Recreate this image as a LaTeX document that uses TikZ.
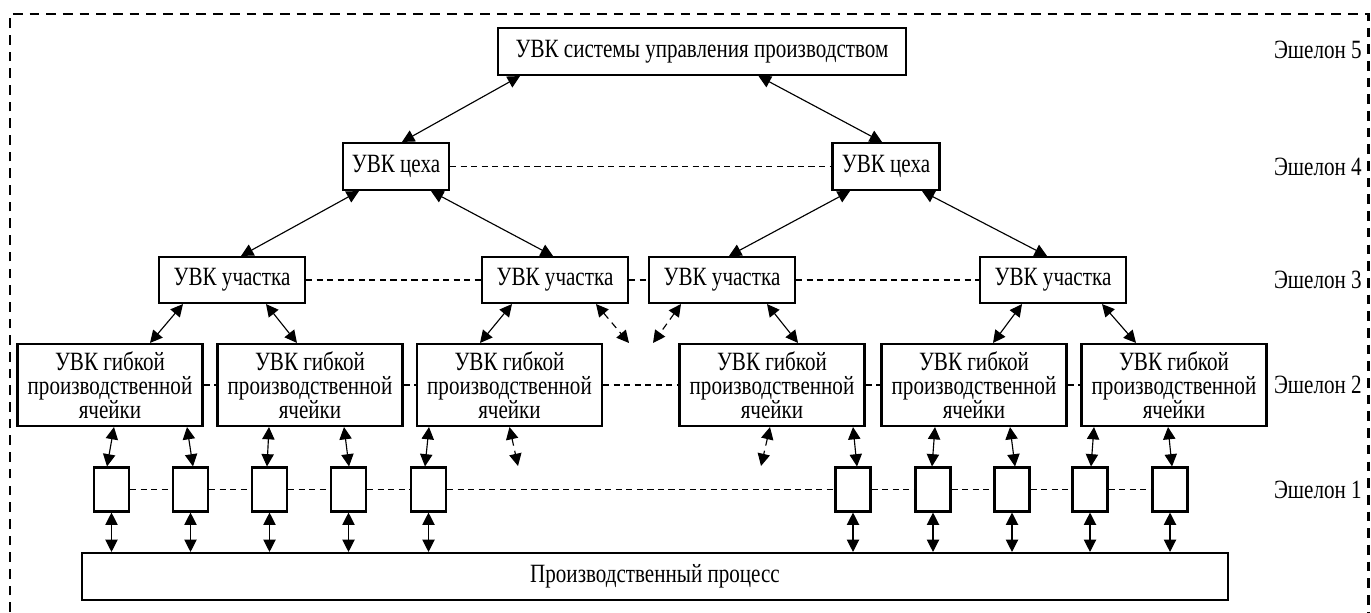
\documentclass[tikz,border=0pt]{standalone}
\usepackage{fontspec}
\setmainfont{Liberation Serif}[FakeStretch=0.8]
\usetikzlibrary{arrows.meta,calc}
\tikzset{box/.style = {shape=rectangle,draw,line width=1.2pt,inner sep=0pt,align=center,fill=white}}
\tikzset{link/.style = {{Triangle[length=7pt,width=7pt]}-{Triangle[length=7pt,width=7pt]},line width=0.65pt}}
\tikzset{dlink/.style = {link,dash pattern=on 4pt off 3pt}}
\tikzset{bus/.style = {line width=0.7pt,dash pattern=on 3.5pt off 2.5pt}}
\tikzset{frame/.style = {line width=1.7pt,dash pattern=on 5.5pt off 4pt}}
\tikzset{echelon/.style = {anchor=east,inner sep=0pt}}

\begin{document}
\begin{tikzpicture}[x=0.02cm,y=-0.02cm,font=\fontsize{15}{13.5}\selectfont]
  \useasboundingbox (0,0) rectangle (1371,612);
  \draw[frame] (10,612) -- (10,14) -- (1368,14) -- (1368,612);

  % echelon 5 and 4
  \node[box,minimum width=8.16cm,minimum height=0.94cm] (top) at (702,51.5) {УВК системы управления производством};
  \node[box,minimum width=2.12cm,minimum height=0.94cm] (shopL) at (396,166.5) {УВК цеха};
  \node[box,minimum width=2.14cm,minimum height=0.94cm] (shopR) at (886,166.5) {УВК цеха};

  % echelon 3
  \node[box,minimum width=2.92cm,minimum height=0.92cm] (area1) at (232,280) {УВК участка};
  \node[box,minimum width=2.92cm,minimum height=0.92cm] (area2) at (555,280) {УВК участка};
  \node[box,minimum width=2.92cm,minimum height=0.92cm] (area3) at (722,280) {УВК участка};
  \node[box,minimum width=2.92cm,minimum height=0.92cm] (area4) at (1053,280) {УВК участка};

  % echelon 2
  \node[box,minimum width=3.7cm,minimum height=1.64cm] (cell1) at (110,385) {УВК гибкой\\производственной\\ячейки};
  \node[box,minimum width=3.7cm,minimum height=1.64cm] (cell2) at (310,385) {УВК гибкой\\производственной\\ячейки};
  \node[box,minimum width=3.7cm,minimum height=1.64cm] (cell3) at (509.5,385) {УВК гибкой\\производственной\\ячейки};
  \node[box,minimum width=3.7cm,minimum height=1.64cm] (cell4) at (772,385) {УВК гибкой\\производственной\\ячейки};
  \node[box,minimum width=3.7cm,minimum height=1.64cm] (cell5) at (974,385) {УВК гибкой\\производственной\\ячейки};
  \node[box,minimum width=3.7cm,minimum height=1.64cm] (cell6) at (1174,385) {УВК гибкой\\производственной\\ячейки};

  % echelon 1
  \node[box,minimum width=0.7cm,minimum height=0.88cm] (dev1) at (111.5,489.5) {};
  \node[box,minimum width=0.7cm,minimum height=0.88cm] (dev2) at (190.5,489.5) {};
  \node[box,minimum width=0.7cm,minimum height=0.88cm] (dev3) at (269.5,489.5) {};
  \node[box,minimum width=0.7cm,minimum height=0.88cm] (dev4) at (348.5,489.5) {};
  \node[box,minimum width=0.7cm,minimum height=0.88cm] (dev5) at (428.5,489.5) {};
  \node[box,minimum width=0.7cm,minimum height=0.88cm] (dev6) at (853,489.5) {};
  \node[box,minimum width=0.7cm,minimum height=0.88cm] (dev7) at (933,489.5) {};
  \node[box,minimum width=0.7cm,minimum height=0.88cm] (dev8) at (1012,489.5) {};
  \node[box,minimum width=0.7cm,minimum height=0.88cm] (dev9) at (1090,489.5) {};
  \node[box,minimum width=0.7cm,minimum height=0.88cm] (dev10) at (1170,489.5) {};

  \node[box,minimum width=22.92cm,minimum height=0.94cm] (proc) at (655,576.5) {Производственный процесс};

  \node[echelon] (e5) at (1362,50) {Эшелон 5};
  \node[echelon] (e4) at (1362,166.5) {Эшелон 4};
  \node[echelon] (e3) at (1362,280) {Эшелон 3};
  \node[echelon] (e2) at (1362,385) {Эшелон 2};
  \node[echelon] (e1) at (1362,489.5) {Эшелон 1};

  % dashed ties inside each echelon
  \draw[bus] (shopL) -- (shopR);
  \draw[bus] (area1) -- (area2);
  \draw[bus] (area2) -- (area3);
  \draw[bus] (area3) -- (area4);
  \foreach \a/\b in {cell1/cell2,cell2/cell3,cell3/cell4,cell4/cell5,cell5/cell6}
    \draw[bus] (\a) -- (\b);
  \foreach \a/\b in {dev1/dev2,dev2/dev3,dev3/dev4,dev4/dev5,dev5/dev6,dev6/dev7,dev7/dev8,dev8/dev9,dev9/dev10}
    \draw[bus] (\a) -- (\b);

  % links between echelons
  \draw[link] ($(top.south)+(-182,0)$) -- ($(shopL.north)+(6,0)$);
  \draw[link] ($(top.south)+(56.5,0)$) -- ($(shopR.north)+(-4,0)$);

  \draw[link] ($(shopL.south)+(-37,0)$) -- ($(area1.north)+(9,0)$);
  \draw[link] ($(shopL.south)+(35,0)$) -- ($(area2.north)+(-2,0)$);
  \draw[link] ($(shopR.south)+(-36,0)$) -- ($(area3.north)+(7,0)$);
  \draw[link] ($(shopR.south)+(36,0)$) -- ($(area4.north)+(-6,0)$);

  \coordinate (freeA) at (629,343);
  \coordinate (freeB) at (653,343);
  \draw[link] ($(area1.south)+(-49,0)$) -- ($(cell1.north)+(40,0)$);
  \draw[link] ($(area1.south)+(34,0)$) -- ($(cell2.north)+(-13,0)$);
  \draw[link] ($(area2.south)+(-43,0)$) -- ($(cell3.north)+(-29.5,0)$);
  \draw[dlink] ($(area2.south)+(41,0)$) -- (freeA);
  \draw[dlink] ($(area3.south)+(-41,0)$) -- (freeB);
  \draw[link] ($(area3.south)+(45,0)$) -- ($(cell4.north)+(26,0)$);
  \draw[link] ($(area4.south)+(-31,0)$) -- ($(cell5.north)+(19,0)$);
  \draw[link] ($(area4.south)+(49,0)$) -- ($(cell6.north)+(-38,0)$);

  \coordinate (freeC) at (518,466);
  \coordinate (freeD) at (761,466);
  \draw[link] ($(cell1.south)+(4,0)$) -- ($(dev1.north)+(-4.5,0)$);
  \draw[link] ($(cell1.south)+(77,0)$) -- ($(dev2.north)+(2.5,0)$);
  \draw[link] ($(cell2.south)+(-41,0)$) -- ($(dev3.north)+(-2.5,0)$);
  \draw[link] ($(cell2.south)+(34,0)$) -- ($(dev4.north)+(0.5,0)$);
  \draw[link] ($(cell3.south)+(-80.5,0)$) -- ($(dev5.north)+(-3.5,0)$);
  \draw[dlink] (cell3.south) -- (freeC);
  \draw[dlink] ($(cell4.south)+(-2,0)$) -- (freeD);
  \draw[link] ($(cell4.south)+(81,0)$) -- ($(dev6.north)+(4,0)$);
  \draw[link] ($(cell5.south)+(-39,0)$) -- ($(dev7.north)+(-1,0)$);
  \draw[link] ($(cell5.south)+(36,0)$) -- ($(dev8.north)+(3,0)$);
  \draw[link] ($(cell6.south)+(-80,0)$) -- ($(dev9.north)+(1,0)$);
  \draw[link] ($(cell6.south)+(-6,0)$) -- ($(dev10.north)+(2,0)$);

  \foreach \d in {dev1,dev2,dev3,dev4,dev5,dev6,dev7,dev8,dev9,dev10}
    \draw[link] (\d.south) -- (\d.south |- proc.north);
\end{tikzpicture}
\end{document}
